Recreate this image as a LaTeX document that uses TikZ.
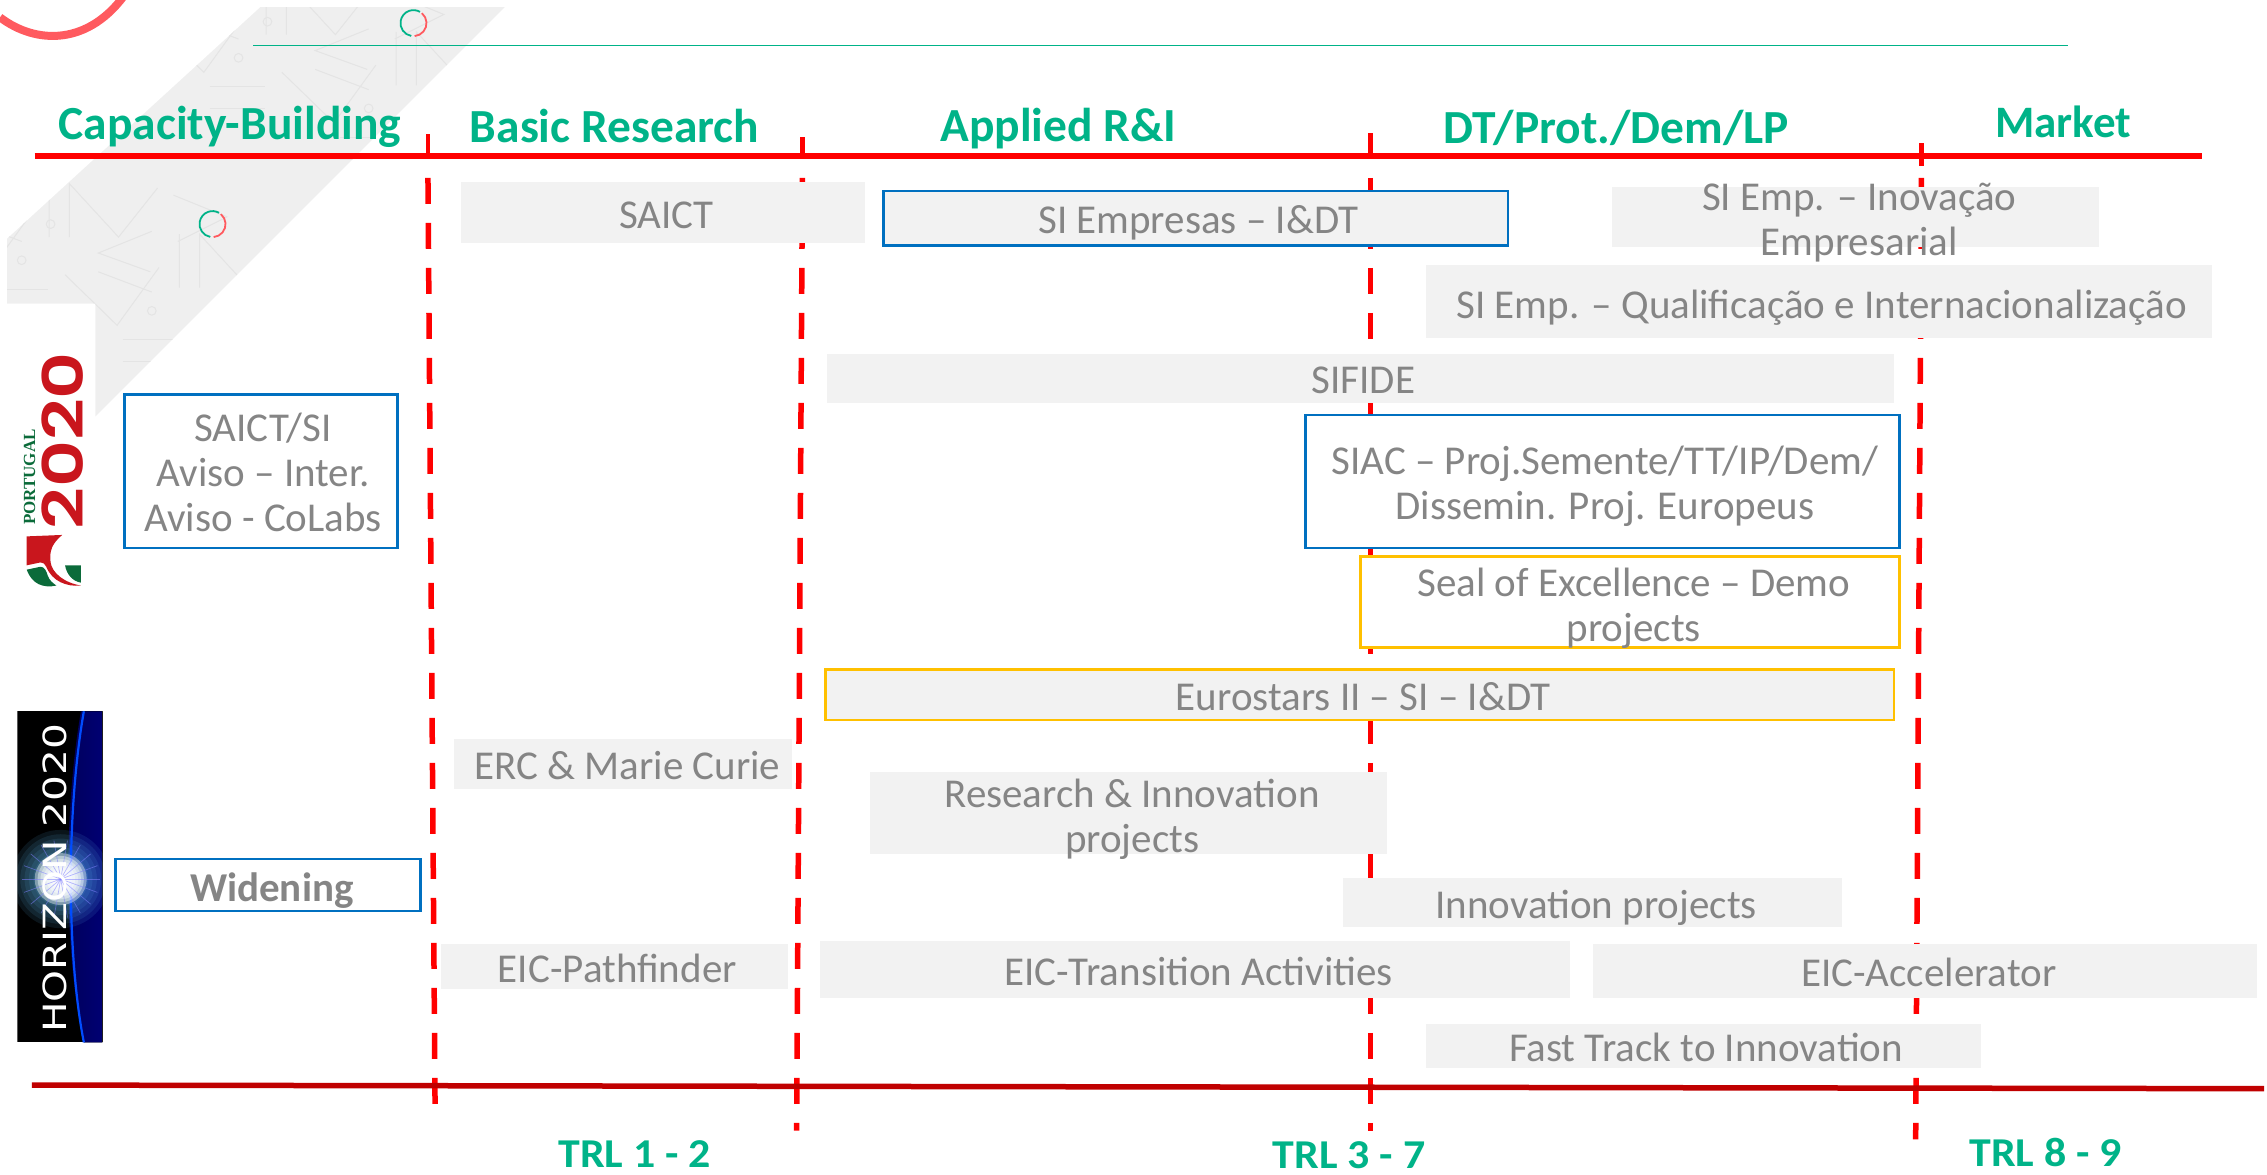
\documentclass[tikz,border=0pt]{standalone}
\usepackage{fontspec}
\setmainfont{Carlito}
\newfontfamily\logoserif{Liberation Serif}
\newfontfamily\logogeo{Poppins SemiBold}
\newfontfamily\logowide{DejaVu Sans}
\definecolor{tgreen}{HTML}{00B388}
\definecolor{tgrey}{HTML}{858585}
\definecolor{boxgrey}{HTML}{F2F2F2}
\definecolor{tblue}{HTML}{0070C0}
\definecolor{tyellow}{HTML}{FFC000}
\definecolor{wmgrey}{HTML}{EFEFEF}
\definecolor{wmline}{HTML}{E4E4E4}
\definecolor{ptred}{HTML}{C9161D}
\definecolor{ptgreen}{HTML}{0B6B3A}
\definecolor{arcred}{HTML}{FF5A5F}
\definecolor{botred}{HTML}{C00000}
\newcommand{\st}{\rule[-7pt]{0pt}{44pt}}
\newcommand{\bx}[6]{%
  \pgfmathsetlengthmacro\bxw{(#4-#2)*1.4458pt}%
  \pgfmathsetlengthmacro\bxh{(#5-#3)*1.4458pt}%
  \pgfmathsetmacro\bxcx{(#2+#4)/2}%
  \pgfmathsetmacro\bxcy{(#3+#5)/2}%
  \node[#6,inner sep=0pt,minimum width=\bxw,minimum height=\bxh] (#1) at (\bxcx,\bxcy) {};}
\tikzset{
  greybox/.style={fill=boxgrey},
  bluebox/.style={draw=tblue,line width=2.6pt},
  yellowbox/.style={draw=tyellow,line width=2.6pt},
  label/.style={inner sep=0pt,align=center,text=tgrey,font=\fontsize{41}{45}\selectfont},
  head/.style={text=tgreen,font=\fontsize{47.5}{50}\selectfont\bfseries,inner sep=0pt},
  trl/.style={text=tgreen,font=\fontsize{41}{44}\selectfont\bfseries,inner sep=0pt},
  redsep/.style={draw=red,line width=5.5pt,dash pattern=on 26pt off 19pt},
  tick/.style={draw=red,line width=4.5pt},
  wm/.style={draw=wmline,line width=1pt},
}
\newcommand{\wmunit}{%
  \draw[wm] (-30,5) -- (-67,20) -- (-31,33) (-67,33) -- (-30,47);
  \draw[wm] (-11,7) -- (-11,44) (3,7) -- (3,44) -- (3,7) -- (37,44) -- (64,10) (75,15) -- (112,30) -- (78,47);
  \draw[wm] (-90,35) -- (-54,70) -- (-25,30);
  \draw[wm] (-50,80) -- (-12,80) (-50,95) -- (-12,95);
  \draw[wm] (-100,0) circle (3);
  \draw[wm] (-30,60) circle (3);
}
\newcommand{\ring}[2]{%
  \draw[tgreen,line width=1.8pt] (#1,#2) ++(100:9) arc (100:300:9);
  \draw[arcred,line width=1.8pt] (#1,#2) ++(-50:9) arc (-50:85:9);
}
\begin{document}
\begin{tikzpicture}[x=1.4458pt,y=-1.4458pt]
\useasboundingbox (0,0) rectangle (1568,812.7);
% watermark band
\begin{scope}
  \path[clip] (180,5) -- (349,5) -- (66,288) -- (66,210) -- (5,210) -- (5,165) -- cycle;
  \fill[wmgrey] (0,0) rectangle (400,420);
  \foreach \k in {0,1,2}{
    \begin{scope}[shift={({285-150*\k},{15+140*\k})}]\wmunit\end{scope}
    \begin{scope}[shift={({195-150*\k},{-20+140*\k})}]\wmunit\end{scope}
  }
\end{scope}
\ring{286}{16}
\ring{147}{155}
% top-left arc
\draw[arcred,line width=8pt] (0,12) .. controls (25,31) and (62,32) .. (88,-6);
% top thin line
\coordinate (tl1) at (175,31.5); \coordinate (tl2) at (1430,31.5);
\draw[tgreen,line width=1.8pt] (tl1) -- (tl2);
% Portugal 2020 logo
\node[rotate=90,text=ptred,font=\fontsize{56}{56}\logogeo\selectfont,inner sep=0pt] (pt2020) at (43,305) {\scalebox{1.3}[1]{2020}};
\node[rotate=90,text=ptgreen,font=\fontsize{17}{18}\logoserif\bfseries\selectfont,inner sep=0pt] (ptword) at (20.5,330) {PORTUGAL};
\fill[ptred] (18.5,371) -- (43,370) .. controls (36,376) and (34,381) .. (35,389) .. controls (36,396) and (44,403) .. (56,405) .. controls (46,406) and (36,402) .. (32,392) .. controls (31,390) and (30,389) .. (28,389) -- (18.5,391) -- cycle;
\fill[ptgreen] (18.5,394) -- (28,392) .. controls (31,392) and (32,395) .. (33,398) .. controls (34,401) and (36,403) .. (39,405) .. controls (30,407) and (22,404) .. (18.5,394) -- cycle;
\fill[ptgreen] (45,391) -- (56,391) -- (56,403) .. controls (50,402) and (46,397) .. (45,391) -- cycle;
% Horizon 2020 logo
\begin{scope}
  \clip (12,492) rectangle (71,721);
  \fill[black] (12,492) rectangle (71,721);
  \fill[left color=blue!35!black,right color=blue!45!black] (56,492) .. controls (44,560) and (44,660) .. (58,721) -- (71,721) -- (71,492) -- cycle;
  \foreach \r in {34,31,...,4}{\fill[blue!35!cyan!60!white,opacity=.1] (42,608) circle (\r);}
  \draw[blue!70!cyan,line width=2.2pt] (58,492) .. controls (46,560) and (46,660) .. (58,721);
  \foreach \r in {18,16,...,6}{\fill[white,opacity=.4] (42,608) circle (\r);}
  \foreach \a in {0,20,...,340}{\draw[white!50!blue,line width=.7pt,opacity=.55] (42,608) -- ++(\a:27);}
\end{scope}
\node[rotate=90,text=white,font=\fontsize{32}{32}\logowide\selectfont,inner sep=0pt] (hz) at (38,607.5) {\scalebox{1.27}[1]{HORIZON 2020}};
% separators
\coordinate (s1a) at (296,123); \coordinate (s1b) at (301,775);
\coordinate (s2a) at (555,123); \coordinate (s2b) at (551,782);
\coordinate (s3a) at (948,123); \coordinate (s3b) at (948,782);
\coordinate (s4a) at (1329,123); \coordinate (s4b) at (1325,788);
\draw[redsep] (s1a) -- (s1b);
\draw[redsep] (s2a) -- (s2b);
\draw[redsep] (s3a) -- (s3b);
\draw[redsep] (s4a) -- (s4b);
\coordinate (ta1) at (296,93); \coordinate (tb1) at (296,108);
\coordinate (ta2) at (555,95); \coordinate (tb2) at (555,108);
\coordinate (ta3) at (948,92); \coordinate (tb3) at (948,108);
\coordinate (ta4) at (1329,99); \coordinate (tb4) at (1329,115);
\draw[tick] (ta1) -- (tb1);
\draw[tick] (ta2) -- (tb2);
\draw[tick] (ta3) -- (tb3);
\draw[tick] (ta4) -- (tb4);
% horizontal axes
\coordinate (top1) at (24,108); \coordinate (top2) at (1523,108);
\draw[red,line width=5.5pt] (top1) -- (top2);
\coordinate (bot1) at (22,750.5); \coordinate (bot2) at (1566,753);
\draw[botred,line width=5.5pt] (bot1) -- (bot2);
% boxes
\bx{saict}{319}{126}{598}{168}{greybox}
\bx{siemp}{611}{132}{1043}{170}{greybox,bluebox}
\bx{inov}{1115}{129}{1452}{171}{greybox}
\bx{qual}{986}{183}{1530}{234}{greybox}
\bx{sifide}{572}{245}{1310}{279}{greybox}
\bx{siac}{903}{287}{1314}{379}{bluebox,fill=white}
\bx{seal}{941}{385}{1314}{448}{yellowbox,fill=white}
\bx{euro}{571}{463}{1310}{498}{greybox,yellowbox}
\bx{erc}{314}{511}{548}{546}{greybox}
\bx{ri}{602}{534}{959}{591}{greybox}
\bx{innov}{929}{607}{1274}{641}{greybox}
\bx{path}{305}{653}{545}{684}{greybox}
\bx{trans}{567}{651}{1086}{690}{greybox}
\bx{acc}{1102}{653}{1561}{690}{greybox}
\bx{fast}{986}{708}{1370}{739}{greybox}
\bx{cap}{86}{273}{275}{379}{bluebox}
\bx{wid}{80}{594}{291}{630}{bluebox}
% box texts
\node[label] (saictT) at (461,148) {\st SAICT};
\node[label] (siempT) at (829,151) {\st SI Empresas – I\&DT};
\node[label] (inovT) at (1286,150.5) {\st SI Emp. – Inovação\\\st Empresarial};
\node[label] (qualT) at (1260,210) {\st SI Emp. – Qualificação e Internacionalização};
\node[label] (sifideT) at (943,262) {\st SIFIDE};
\node[label] (siacT) at (1110,333.5) {\st SIAC – Proj.Semente/TT/IP/Dem/\\\st Dissemin. Proj. Europeus};
\node[label] (sealT) at (1130,417.5) {\st Seal of Excellence – Demo\\\st projects};
\node[label] (euroT) at (943,481) {\st Eurostars II – SI – I\&DT};
\node[label] (ercT) at (434,529) {\st ERC \& Marie Curie};
\node[label] (riT) at (783,563.5) {\st Research \& Innovation\\\st projects};
\node[label] (innovT) at (1104,625) {\st Innovation projects};
\node[label] (pathT) at (427,669) {\st EIC-Pathfinder};
\node[label] (transT) at (829,671) {\st EIC-Transition Activities};
\node[label] (accT) at (1334,672) {\st EIC-Accelerator};
\node[label] (fastT) at (1180,724) {\st Fast Track to Innovation};
\node[label] (capT) at (182,326) {\st SAICT/SI\\\st Aviso – Inter.\\\st Aviso - CoLabs};
\node[label,font=\fontsize{41}{45}\selectfont\bfseries] (widT) at (188,613) {\st Widening};
% headings
\node[head] (h1) at (159,86.5) {\st Capacity-Building};
\node[head] (h2) at (425,88) {\st Basic Research};
\node[head] (h3) at (732,88) {\st Applied R\&I};
\node[head] (h4) at (1118,89) {\st DT/Prot./Dem/LP};
\node[head,font=\fontsize{45}{50}\selectfont\bfseries] (h5) at (1427,85) {\st Market};
\node[trl] (t1) at (439,798.5) {\scalebox{1.07}[1]{TRL 1 - 2}};
\node[trl] (t2) at (933,799) {\scalebox{1.07}[1]{TRL 3 - 7}};
\node[trl] (t3) at (1415,797) {\scalebox{1.07}[1]{TRL 8 - 9}};
\end{tikzpicture}
\end{document}
